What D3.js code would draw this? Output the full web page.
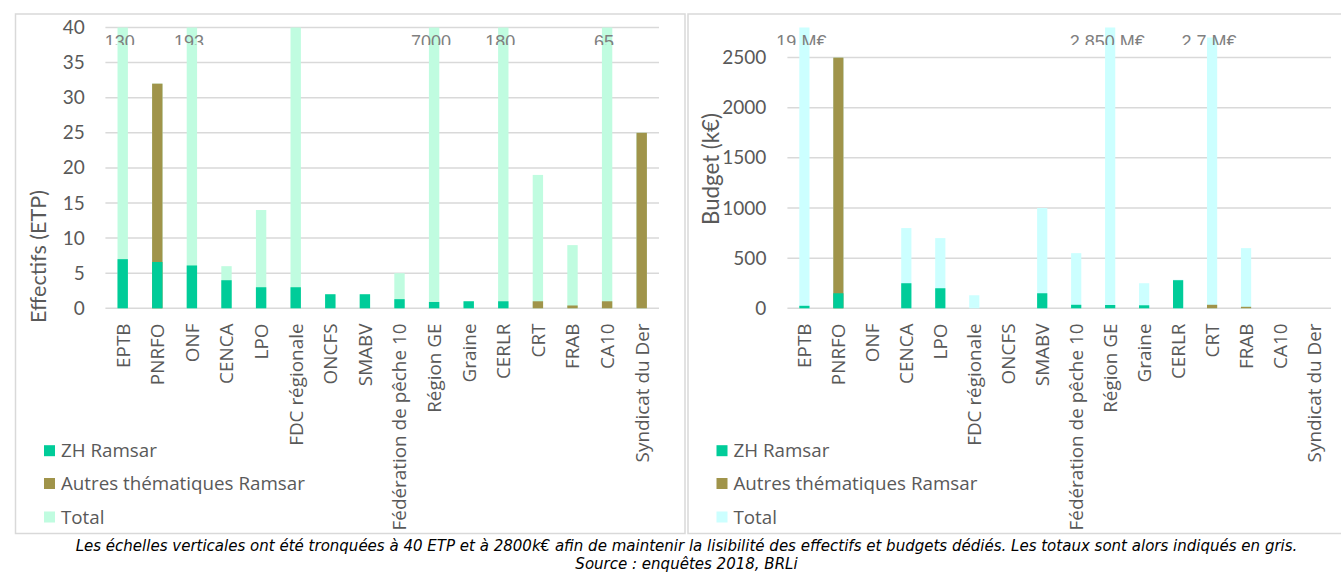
<!DOCTYPE html>
<html><head><meta charset="utf-8">
<script src="https://cdn.jsdelivr.net/npm/d3@7"></script>
<style>html,body{margin:0;padding:0;background:#fff;overflow:hidden}</style>
</head><body>
<svg id="chart" width="1341" height="573"></svg>
<script>
// ---------- DATA ----------
const categories = ["EPTB","PNRFO","ONF","CENCA","LPO","FDC régionale","ONCFS","SMABV","Fédération de pêche 10","Région GE","Graine","CERLR","CRT","FRAB","CA10","Syndicat du Der"];
const seriesNames = ["ZH Ramsar","Autres thématiques Ramsar","Total"];

// Effectifs (ETP)
const effZH     = [7, 6.6, 6.1, 4, 3, 3, 2, 2, 1.3, 0.9, 1, 1, 0, 0, 0, 0];
const effAutres = [0, 32, 0, 0, 0, 0, 0, 0, 0, 0, 0, 0, 1, 0.4, 1, 25];
const effTotal  = [130, 32, 193, 6, 14, 40, 2, 2, 5, 7000, 1, 180, 19, 9, 65, 25];
const effTotalLabels = ["130","","193","","","","","","","7000","","180","","","65",""];
const effTicks = [0,5,10,15,20,25,30,35,40];
const effMax = 40;

// Budget (k€)
const budZH     = [25, 150, 0, 250, 200, 0, 0, 150, 35, 33, 30, 280, 0, 0, 0, 0];
const budAutres = [0, 2500, 0, 0, 0, 0, 0, 0, 0, 0, 0, 0, 35, 15, 0, 0];
const budTotal  = [19000, 2500, 0, 800, 700, 130, 0, 1000, 550, 2850, 250, 285, 2700, 600, 0, 0];
const budTotalLabels = ["19 M€","","","","","","","","","2,850 M€","","","2,7 M€","","",""];
const budTicks = [0,500,1000,1500,2000,2500];
const budMax = 2800;

const captionLines = [
  "Les échelles verticales ont été tronquées à 40 ETP et à 2800k€ afin de maintenir la lisibilité des effectifs et budgets dédiés. Les totaux sont alors indiqués en gris.",
  "Source : enquêtes 2018, BRLi"
];

// ---------- STYLE ----------
const C_ZH = "#00CC99", C_AUT = "#A0944A";
const GRID = "#D9D9D9", TXT = "#595959";

const svg = d3.select("#chart");

function fitSize(sel, target, base){
  sel.style("font-size", base + "px");
  const l = sel.node().getComputedTextLength();
  const s = base * target / l;
  sel.style("font-size", s + "px");
  return s;
}

// panel borders
svg.append("rect").attr("x",15.5).attr("y",14).attr("width",669.5).attr("height",519.5)
  .attr("fill","none").attr("stroke",GRID).attr("stroke-width",1.5);
svg.append("rect").attr("x",688).attr("y",14).attr("width",700).attr("height",519.5)
  .attr("fill","none").attr("stroke",GRID).attr("stroke-width",1.5);

svg.append("defs").append("clipPath").attr("id","lblclip")
  .append("rect").attr("x",0).attr("y",0).attr("width",1341).attr("height",45);

function panel(o){
  const x = d3.scaleBand().domain(categories).range([o.x0,o.x1]).paddingInner(0.7).paddingOuter(0.35);
  const y = d3.scaleLinear().domain([0,o.max]).range([308.3,27.5]).clamp(true);
  const g = svg.append("g");

  // gridlines
  g.append("g").selectAll("line").data(o.ticks).join("line")
    .attr("x1",o.x0).attr("x2",o.x1)
    .attr("y1",d=>y(d)).attr("y2",d=>y(d))
    .attr("stroke",GRID).attr("stroke-width",1.5);

  // y tick labels via axis
  const ax = g.append("g").attr("transform",`translate(${o.x0},0)`)
    .call(d3.axisLeft(y).tickValues(o.ticks).tickFormat(d3.format("d")).tickSize(0).tickPadding(o.tickPad));
  ax.select(".domain").remove();
  ax.selectAll("text").attr("fill",TXT).style("font-family","Lato, sans-serif").style("font-size","19px");

  const bw = x.bandwidth();
  const layers = [
    {vals:o.total, col:o.totalCol},
    {vals:o.autres, col:C_AUT},
    {vals:o.zh, col:C_ZH}
  ];
  layers.forEach(L=>{
    g.append("g").selectAll("rect").data(categories).join("rect")
      .attr("x",d=>x(d)).attr("width",bw)
      .attr("y",(d,i)=>y(L.vals[i]))
      .attr("height",(d,i)=>y(0)-y(L.vals[i]))
      .attr("fill",L.col);
  });

  // total labels (clipped like reference)
  g.append("g").attr("clip-path","url(#lblclip)").selectAll("text")
    .data(categories).join("text")
    .attr("x",d=>x(d)+bw/2 - 3).attr("y",48)
    .attr("text-anchor","middle")
    .attr("fill","#7F7F7F")
    .style("font-family","'Liberation Sans', Arial, sans-serif").style("font-size","18px")
    .text((d,i)=>o.labels[i]);

  // x category labels (rotated)
  const xl = g.append("g").selectAll("text").data(categories).join("text")
    .attr("transform",d=>`translate(${x(d)+bw/2},323.5) rotate(-90)`)
    .attr("text-anchor","end").attr("dy","0.36em")
    .attr("fill",TXT)
    .style("font-family","'Open Sans', sans-serif")
    .text(d=>d);
  const ref = xl.filter(d=>d==="Fédération de pêche 10");
  const fs = fitSize(ref, 207, 17);
  xl.style("font-size", fs+"px");

  // y title
  const yt = g.append("text")
    .attr("transform",`translate(${o.titleX},${o.titleY}) rotate(-90)`)
    .attr("text-anchor","middle").attr("dy","0.35em")
    .attr("fill",TXT).style("font-family","Lato, sans-serif")
    .text(o.title);
  fitSize(yt, o.titleLen, 20);

  // legend
  const cols = [C_ZH, C_AUT, o.totalCol];
  const rowsY = [450.7, 483.5, 517];
  const lg = g.append("g");
  lg.selectAll("rect").data(seriesNames).join("rect")
    .attr("x",o.legX).attr("y",(d,i)=>rowsY[i]-5.5).attr("width",11).attr("height",11)
    .attr("fill",(d,i)=>cols[i]);
  const lt = lg.selectAll("text").data(seriesNames).join("text")
    .attr("x",o.legX+17).attr("y",(d,i)=>rowsY[i]).attr("dy","0.36em")
    .attr("fill",TXT).style("font-family","'Open Sans', sans-serif")
    .text(d=>d);
  const lfs = fitSize(lt.filter((d,i)=>i===1), 244, 18);
  lt.style("font-size", lfs+"px");
}

panel({x0:105.4, x1:659, max:effMax, ticks:effTicks, zh:effZH, autres:effAutres, total:effTotal,
  labels:effTotalLabels, totalCol:"#C0FCE0", tickPad:20.5, title:"Effectifs (ETP)", titleX:38, titleY:256.5, titleLen:133, legX:44});
panel({x0:787.4, x1:1331, max:budMax, ticks:budTicks, zh:budZH, autres:budAutres, total:budTotal,
  labels:budTotalLabels, totalCol:"#CCFFFF", tickPad:21, title:"Budget (k€)", titleX:711.6, titleY:169, titleLen:112, legX:716.5});

// caption
const cap1 = svg.append("text").attr("x",686.5).attr("y",550.5).attr("text-anchor","middle")
  .attr("fill","#000").style("font-family","'DejaVu Sans', sans-serif").style("font-style","italic")
  .text(captionLines[0]);
const cfs = fitSize(cap1, 1223, 13);
svg.append("text").attr("x",686.5).attr("y",569).attr("text-anchor","middle")
  .attr("fill","#000").style("font-family","'DejaVu Sans', sans-serif").style("font-style","italic")
  .style("font-size",cfs+"px").text(captionLines[1]);
</script>
</body></html>
